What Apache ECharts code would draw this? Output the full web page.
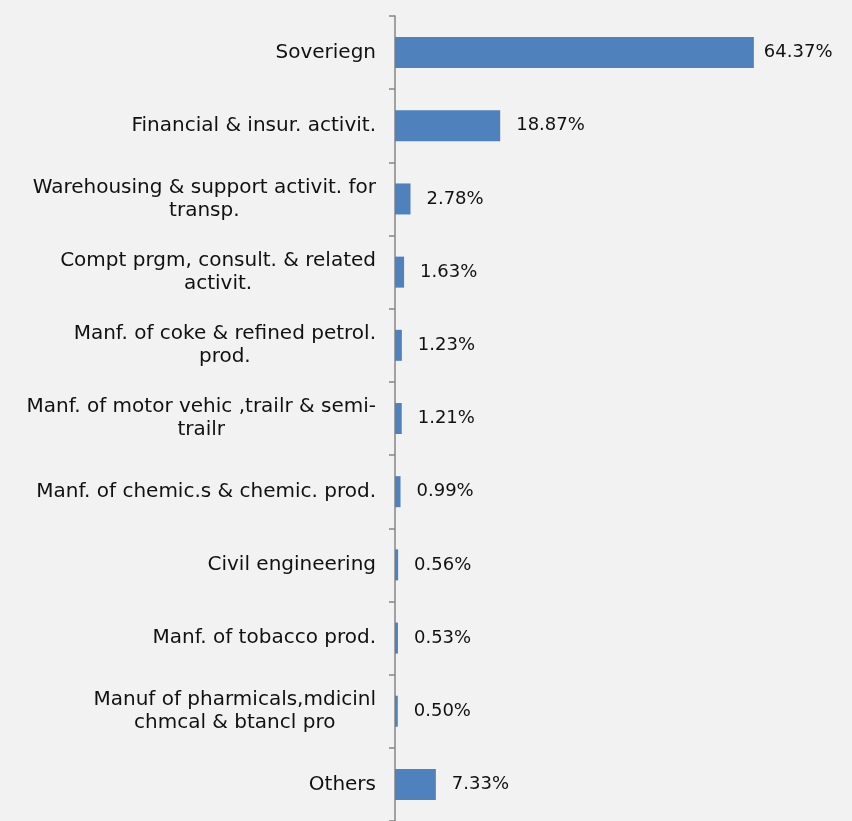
<!DOCTYPE html>
<html>
<head>
<meta charset="utf-8">
<script src="https://cdn.jsdelivr.net/npm/echarts@6/dist/echarts.min.js"></script>
<style>
  html, body { margin: 0; padding: 0; background: #f2f2f2; }
  #chart { width: 852px; height: 821px; }
</style>
</head>
<body>
<div id="chart"></div>
<script>
  // 行业分布, 横柱状图
  var categories = [
    'Soveriegn',
    'Financial & insur. activit.',
    'Warehousing & support activit. for\ntransp.',
    'Compt prgm, consult. & related\nactivit.',
    'Manf. of coke & refined petrol.\nprod.',
    'Manf. of motor vehic ,trailr & semi-\ntrailr',
    'Manf. of chemic.s & chemic. prod.',
    'Civil engineering',
    'Manf. of tobacco prod.',
    'Manuf of pharmicals,mdicinl\nchmcal & btancl pro',
    'Others'
  ];
  var weights = [64.37, 18.87, 2.78, 1.63, 1.23, 1.21, 0.99, 0.56, 0.53, 0.50, 7.33];

  var chart = echarts.init(document.getElementById('chart'));
  var option = {
    backgroundColor: '#f2f2f2',
    animation: false,
    textStyle: { fontFamily: 'DejaVu Sans' },
    grid: {
      left: 395,
      top: 16,
      width: 446,
      height: 814
    },
    xAxis: {
      type: 'value',
      min: 0,
      max: 80,
      show: false
    },
    yAxis: {
      type: 'category',
      inverse: true,
      data: categories,
      axisLine: {
        show: true,
        lineStyle: { color: '#868686', width: 1.5 }
      },
      axisTick: {
        show: true,
        length: 6,
        lineStyle: { color: '#868686', width: 1.5 }
      },
      axisLabel: {
        margin: 19,
        color: '#111',
        fontSize: 20,
        lineHeight: 23,
        formatter: function (val) {
          return val.split('\n').map(function (l) { return '{c|' + l + '}'; }).join('\n');
        },
        rich: {
          c: { align: 'center', fontSize: 20, lineHeight: 23, color: '#111', fontFamily: 'DejaVu Sans' }
        }
      }
    },
    series: [{
      name: 'weight',
      type: 'bar',
      barWidth: 31,
      data: weights.map(function (v, i) {
        // 最大那根的标签贴得更近
        return i === 0 ? { value: v, label: { distance: 10 } } : v;
      }),
      itemStyle: { color: '#4f81bd' },
      label: {
        show: true,
        position: 'right',
        distance: 16,
        color: '#111',
        fontSize: 18,
        fontFamily: 'DejaVu Sans',
        formatter: function (p) { return p.value.toFixed(2) + '%'; }
      }
    }]
  };
  chart.setOption(option);
</script>
</body>
</html>
